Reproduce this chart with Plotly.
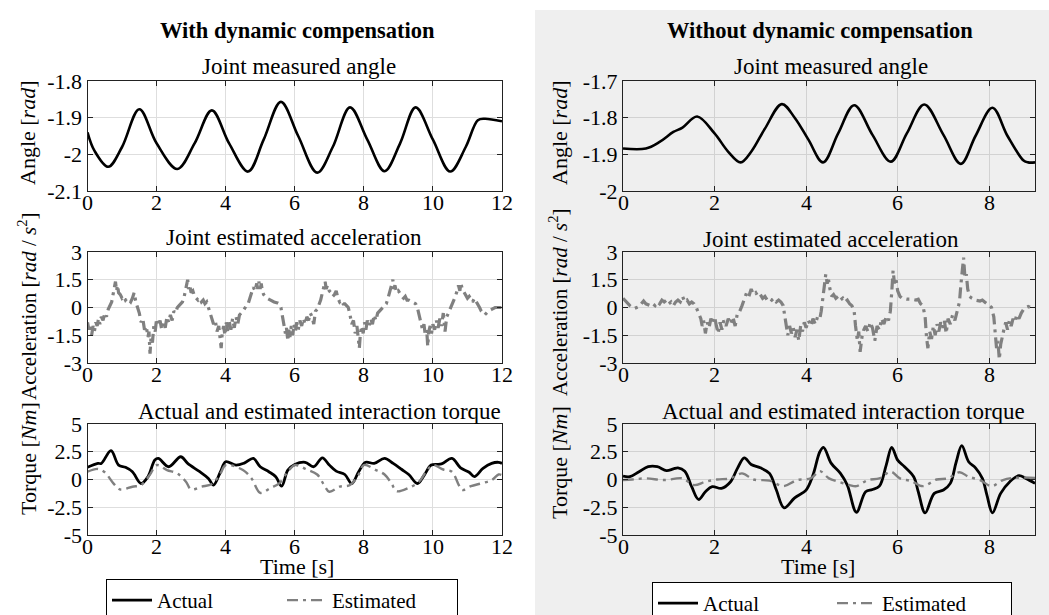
import plotly.graph_objects as go

W, H = 1049, 615
FONT = "Liberation Serif"

# ---------------- data ----------------
# Left: with dynamic compensation (0..12 s)
ang_L_t = [0, 0.2, 0.6, 1.0, 1.5, 2.0, 2.6, 3.1, 3.6, 4.1, 4.65, 5.1, 5.6, 6.1, 6.65, 7.1, 7.6, 8.1,
           8.6, 9.05, 9.5, 10.0, 10.5, 10.95, 11.3, 11.5, 12.0]
ang_L_v = [-1.94, -1.99, -2.034, -1.98, -1.877, -1.97, -2.04, -1.97, -1.88, -1.97, -2.047, -1.96, -1.857,
           -1.95, -2.05, -1.98, -1.872, -1.96, -2.046, -1.97, -1.872, -1.96, -2.047, -1.98, -1.907, -1.903, -1.91]

acc_L_t = [0.00, 0.04, 0.08, 0.12, 0.16, 0.2, 0.24, 0.28, 0.32, 0.36, 0.4, 0.45, 0.5, 0.55, 0.6, 0.65, 0.7, 0.74,
           0.78, 0.81, 0.84, 0.87, 0.9, 0.95, 1.0, 1.05, 1.1, 1.15, 1.2, 1.25, 1.3, 1.35, 1.4, 1.45, 1.5, 1.55,
           1.6, 1.65, 1.7, 1.75, 1.78, 1.81, 1.84, 1.88, 1.92, 1.96, 2.0, 2.05, 2.1, 2.15, 2.2, 2.25, 2.3, 2.35,
           2.4, 2.45, 2.5, 2.55, 2.6, 2.65, 2.7, 2.75, 2.8, 2.85, 2.9, 2.93, 2.96, 3.0, 3.05, 3.1, 3.15, 3.2,
           3.25, 3.3, 3.35, 3.4, 3.45, 3.5, 3.55, 3.6, 3.65, 3.7, 3.75, 3.8, 3.84, 3.87, 3.9, 3.94, 3.98, 4.02,
           4.06, 4.1, 4.15, 4.2, 4.25, 4.3, 4.35, 4.4, 4.5, 4.55, 4.6, 4.65, 4.7, 4.75, 4.8, 4.85, 4.9, 4.93,
           4.96, 5.0, 5.03, 5.06, 5.1, 5.15, 5.2, 5.3, 5.4, 5.5, 5.55, 5.6, 5.65, 5.7, 5.73, 5.76, 5.8, 5.83,
           5.86, 5.9, 5.94, 5.98, 6.02, 6.06, 6.1, 6.15, 6.2, 6.25, 6.3, 6.35, 6.4, 6.45, 6.5, 6.55, 6.6, 6.65,
           6.7, 6.75, 6.8, 6.85, 6.88, 6.91, 6.95, 7.0, 7.05, 7.1, 7.15, 7.2, 7.25, 7.3, 7.35, 7.4, 7.45, 7.5,
           7.55, 7.6, 7.65, 7.7, 7.75, 7.8, 7.84, 7.87, 7.9, 7.94, 7.98, 8.02, 8.06, 8.1, 8.15, 8.2, 8.25, 8.3,
           8.35, 8.4, 8.5, 8.55, 8.6, 8.65, 8.7, 8.75, 8.8, 8.84, 8.87, 8.9, 8.95, 9.0, 9.05, 9.1, 9.15, 9.2,
           9.25, 9.3, 9.4, 9.5, 9.55, 9.6, 9.65, 9.7, 9.74, 9.78, 9.82, 9.85, 9.88, 9.92, 9.96, 10.0, 10.05,
           10.1, 10.15, 10.2, 10.25, 10.3, 10.35, 10.4, 10.45, 10.5, 10.55, 10.6, 10.65, 10.7, 10.74, 10.78,
           10.81, 10.85, 10.9, 10.95, 11.0, 11.05, 11.1, 11.15, 11.2, 11.25, 11.3, 11.35, 11.4, 11.45, 11.5,
           11.55, 11.6, 11.7, 11.8, 11.9, 12.0]
acc_L_v = [-0.8, -1.2, -0.9, -1.5, -1.0, -1.3, -0.8, -1.0, -0.6, -0.9, -0.5, -0.7, -0.3, -0.5, -0.1, 0.1, 0.3, 0.7,
           1.0, 1.4, 0.9, 1.2, 0.8, 0.7, 0.5, 0.6, 0.4, 0.5, 0.4, 0.3, 0.5, 0.8, 0.3, 0.0, -0.3, -0.8,
           -0.6, -1.2, -1.0, -1.6, -1.3, -2.5, -1.6, -1.9, -1.0, -1.3, -0.6, -1.0, -0.7, -1.2, -0.8, -1.1, -0.5, -0.8,
           -0.4, -0.7, -0.2, -0.3, 0.0, 0.1, 0.2, 0.3, 0.6, 1.0, 1.5, 1.0, 1.2, 0.8, 0.9, 0.6, 0.5, 0.4,
           0.5, 0.3, 0.4, 0.2, 0.3, 0.0, -0.3, -0.6, -0.9, -0.7, -1.3, -1.0, -1.6, -2.2, -1.4, -1.0, -1.5, -0.8,
           -1.3, -0.7, -1.2, -0.6, -1.1, -0.5, -0.9, -0.4, -0.2, 0.0, 0.1, 0.2, 0.5, 0.8, 1.1, 0.9, 1.3, 1.0,
           1.4, 1.0, 1.3, 0.9, 0.7, 0.6, 0.5, 0.4, 0.3, 0.25, 0.2, 0.0, -0.5, -1.0, -1.4, -1.1, -1.8, -1.2,
           -1.6, -1.0, -1.5, -0.9, -1.3, -0.8, -1.2, -0.7, -1.0, -0.6, -0.9, -0.5, -0.7, -0.3, -0.5, -0.9, -0.2, -0.1,
           0.1, 0.4, 0.8, 1.1, 1.4, 1.0, 1.2, 0.9, 0.8, 0.6, 0.7, 0.9, 0.5, 0.3, 0.4, 0.2, 0.2, 0.1,
           0.0, -0.4, -0.9, -0.7, -1.4, -1.0, -1.7, -2.2, -1.4, -1.0, -1.4, -0.8, -1.2, -0.7, -1.0, -0.6, -0.9, -0.4,
           -0.7, -0.3, -0.1, 0.0, 0.1, 0.2, 0.5, 0.8, 1.2, 1.5, 1.0, 1.2, 0.8, 0.9, 0.7, 0.6, 0.5, 0.6,
           0.4, 0.4, 0.3, 0.2, 0.0, -0.4, -0.8, -1.2, -0.9, -1.5, -1.2, -2.1, -1.3, -1.0, -1.4, -0.9, -1.2,
           -0.7, -1.1, -0.6, -1.0, -0.3, -1.3, -0.5, -0.3, -0.1, 0.1, 0.3, 0.6, 0.9, 1.2, 0.9,
           1.3, 1.0, 0.8, 0.7, 0.5, 0.6, 0.4, 0.3, 0.5, 0.3, 0.2, 0.0, -0.2, -0.3, -0.4,
           -0.3, -0.2, -0.1, 0.0, 0.0, 0.0]

tq_L_t = [0, 0.3, 0.4, 0.68, 0.9, 1.1, 1.3, 1.55, 1.75, 1.95, 2.05, 2.35, 2.7, 2.9, 3.25, 3.5, 3.65, 3.85,
          4.0, 4.3, 4.55, 4.8, 5.0, 5.25, 5.45, 5.62, 5.8, 6.0, 6.3, 6.55, 6.8, 7.0, 7.2, 7.45, 7.65,
          7.85, 8.05, 8.3, 8.6, 8.85, 9.1, 9.3, 9.55, 9.75, 9.95, 10.25, 10.55, 10.8, 11.05, 11.2,
          11.45, 11.7, 11.9, 12.0]
tq_L_act = [1.1, 1.45, 1.45, 2.6, 1.3, 1.1, 0.7, -0.36, 0.25, 1.75, 1.9, 1.15, 2.05, 1.45, 0.7, 0.1, -0.5, 0.7,
            1.6, 1.3, 1.5, 1.9, 1.15, 0.7, 0.25, -0.6, 0.85, 1.35, 1.55, 1.15, 1.95, 1.3, 0.75, 0.45, -0.36,
            0.7, 1.55, 1.45, 1.9, 1.45, 0.9, 0.45, -0.36, 0.4, 1.3, 1.4, 1.9, 1.05, 0.65, 0.25,
            1.0, 1.45, 1.55, 1.45]
tq_L_est_t = [0, 0.3, 0.5, 0.75, 0.95, 1.3, 1.55, 1.8, 2.0, 2.3, 2.6, 2.85, 3.0, 3.3, 3.6, 3.85, 4.0, 4.5,
              4.75, 5.0, 5.3, 5.55, 5.8, 6.0, 6.35, 6.65, 6.85, 7.0, 7.3, 7.6, 7.85, 8.0, 8.35, 8.6, 8.8,
              8.95, 9.3, 9.6, 9.8, 10.0, 10.3, 10.55, 10.75, 10.85, 11.1, 11.4, 11.7, 11.9, 12.0]
tq_L_est = [0.7, 0.95, 0.65, -0.35, -0.9, -0.65, -0.5, 0.4, 1.3, 0.85, 0.55, -0.2, -0.9, -0.65, -0.4, 0.55, 1.3,
            0.85, 0.1, -1.2, -0.75, -0.35, 0.7, 1.3, 0.9, 0.45, -0.5, -1.1, -0.65, -0.5, 0.45, 1.3, 0.85, 0.45,
            -0.35, -1.05, -0.75, -0.2, 0.7, 1.3, 0.9, 0.7, -0.5, -0.95, -0.6, -0.35, -0.05, 0.45, 0.4]

# Right: without dynamic compensation (0..9 s)
ang_R_t = [0, 0.5, 0.8, 1.1, 1.3, 1.62, 2.0, 2.3, 2.57, 2.8, 3.1, 3.47, 3.75, 4.05, 4.37, 4.7, 5.05, 5.45,
           5.85, 6.2, 6.58, 7.0, 7.38, 7.7, 8.07, 8.4, 8.75, 8.85, 9.0]
ang_R_v = [-1.884, -1.884, -1.866, -1.839, -1.827, -1.797, -1.843, -1.893, -1.922, -1.893, -1.83, -1.763,
           -1.8, -1.86, -1.922, -1.843, -1.766, -1.847, -1.92, -1.843, -1.764, -1.847, -1.926, -1.85,
           -1.773, -1.85, -1.917, -1.922, -1.922]

acc_R_t = [0.0, 0.05, 0.1, 0.15, 0.2, 0.25, 0.3, 0.35, 0.4, 0.45, 0.5, 0.55, 0.6, 0.65, 0.7, 0.75, 0.8, 0.85,
           0.9, 0.95, 1.0, 1.05, 1.1, 1.15, 1.2, 1.25, 1.3, 1.35, 1.4, 1.45, 1.5, 1.55, 1.6, 1.65, 1.7, 1.73,
           1.76, 1.8, 1.84, 1.88, 1.92, 1.96, 2.0, 2.04, 2.08, 2.12, 2.16, 2.2, 2.25, 2.3, 2.35, 2.4, 2.45,
           2.5, 2.55, 2.6, 2.65, 2.7, 2.75, 2.8, 2.85, 2.9, 2.95, 3.0, 3.05, 3.1, 3.15, 3.2, 3.25, 3.3, 3.35,
           3.4, 3.45, 3.5, 3.53, 3.56, 3.6, 3.64, 3.68, 3.72, 3.76, 3.8, 3.84, 3.88, 3.92, 3.96, 4.0, 4.05,
           4.1, 4.15, 4.2, 4.25, 4.3, 4.33, 4.36, 4.4, 4.43, 4.46, 4.49, 4.52, 4.56, 4.6, 4.65, 4.7, 4.75,
           4.8, 4.85, 4.9, 4.95, 5.0, 5.05, 5.08, 5.12, 5.15, 5.18, 5.22, 5.26, 5.3, 5.35, 5.4, 5.45, 5.5,
           5.55, 5.6, 5.65, 5.7, 5.75, 5.8, 5.84, 5.87, 5.9, 5.93, 5.96, 6.0, 6.05, 6.1, 6.2, 6.3, 6.4, 6.45,
           6.5, 6.55, 6.6, 6.63, 6.66, 6.7, 6.74, 6.78, 6.82, 6.86, 6.9, 6.94, 6.98, 7.02, 7.06, 7.1, 7.15,
           7.2, 7.25, 7.3, 7.35, 7.38, 7.41, 7.44, 7.47, 7.5, 7.53, 7.57, 7.62, 7.7, 7.8, 7.85, 7.9, 8.0,
           8.05, 8.1, 8.13, 8.16, 8.19, 8.22, 8.25, 8.28, 8.32, 8.36, 8.4, 8.44, 8.48, 8.52, 8.56, 8.6, 8.65,
           8.7, 8.75, 8.8, 8.85, 8.9, 9.0]
acc_R_v = [0.5, 0.35, 0.2, 0.1, 0.0, -0.05, 0.0, 0.05, 0.2, 0.35, 0.2, 0.15, 0.1, 0.2, 0.1, 0.3, 0.2, 0.4,
           0.3, 0.4, 0.2, 0.3, 0.1, 0.3, 0.4, 0.3, 0.6, 0.3, 0.4, 0.2, 0.3, 0.2, 0.0, -0.3, -0.6, -1.0,
           -0.7, -1.4, -0.8, -1.1, -0.6, -0.9, -0.5, -1.0, -1.4, -0.8, -1.2, -0.7, -1.0, -0.6, -0.9, -0.5, -1.0,
           -0.3, -0.2, 0.1, 0.4, 0.8, 0.6, 1.0, 0.7, 0.8, 0.6, 0.7, 0.5, 0.6, 0.4, 0.5, 0.4, 0.5, 0.3,
           0.4, 0.3, 0.1, -0.4, -1.0, -1.5, -1.0, -1.4, -1.1, -1.6, -1.2, -1.8, -1.0, -1.3, -0.8, -1.1, -0.7,
           -1.0, -0.6, -0.9, -0.5, -0.6, -0.2, 0.4, 1.2, 1.8, 1.3, 1.5, 1.0, 0.6, 0.7, 0.5, 0.6, 0.4,
           0.5, 0.3, 0.4, 0.2, 0.1, -0.2, -1.0, -1.8, -1.3, -2.4, -1.6, -1.2, -1.0, -1.3, -0.8, -1.1, -1.8,
           -1.0, -1.2, -0.6, -0.9, -0.5, -0.7, -0.2, 0.8, 2.0, 1.3, 1.6, 0.9, 0.6, 0.5, 0.45, 0.45, 0.4, 0.45,
           0.2, 0.1, -0.5, -1.6, -2.2, -1.3, -1.7, -1.0, -1.5, -0.9, -1.3, -0.8, -1.1, -0.7, -1.4, -0.6, -0.9,
           -0.4, -0.7, -0.2, 0.3, 1.2, 2.0, 2.7, 1.6, 1.8, 1.0, 0.6, 0.5, 0.4, 0.35, 0.4, 0.3, 0.1,
           0.0, -0.5, -1.6, -2.2, -1.8, -2.8, -2.0, -1.6, -1.2, -0.8, -1.2, -0.7, -1.0, -0.6, -0.8, -0.4, -0.6,
           -0.3, -0.1, 0.0, 0.05, 0.0, 0.0]

tq_R_t = [0, 0.15, 0.35, 0.55, 0.75, 0.95, 1.1, 1.2, 1.35, 1.5, 1.65, 1.8, 1.95, 2.15, 2.35, 2.5, 2.65, 2.8,
          3.0, 3.2, 3.35, 3.52, 3.75, 4.0, 4.15, 4.3, 4.38, 4.55, 4.75, 4.9, 5.1, 5.3, 5.45, 5.6, 5.75,
          5.87, 6.0, 6.15, 6.35, 6.45, 6.6, 6.8, 7.0, 7.15, 7.28, 7.4, 7.55, 7.7, 7.85, 7.95, 8.07,
          8.25, 8.45, 8.65, 8.8, 9.0]
tq_R_act = [0.3, 0.25, 0.7, 1.15, 1.15, 0.8, 0.95, 1.05, 0.75, -0.65, -1.8, -1.1, -0.65, -0.8, -0.2, 1.0, 1.95,
            1.35, 1.05, 0.55, -0.95, -2.55, -1.65, -0.95, 0.4, 2.5, 2.9, 1.45, 0.55, -0.5, -2.95, -1.1,
            -0.9, -0.6, 1.3, 2.9, 1.75, 1.15, 0.25, -1.1, -3.0, -1.25, -0.95, -0.35, 1.6, 3.05, 1.6, 1.05,
            0.1, -1.4, -3.0, -1.25, -0.2, 0.35, 0.1, -0.35]
tq_R_est_t = [0, 0.2, 0.5, 0.9, 1.3, 1.55, 1.8, 2.05, 2.35, 2.6, 2.85, 3.2, 3.5, 3.8, 4.1, 4.3, 4.5, 4.7,
              4.95, 5.1, 5.35, 5.6, 5.85, 6.05, 6.3, 6.55, 6.85, 7.1, 7.35, 7.55, 7.8, 8.05, 8.3, 8.55, 9.0]
tq_R_est = [-0.05, 0.0, 0.1, -0.05, 0.1, -0.5, -0.2, 0.0, 0.1, 0.55, 0.0, -0.1, -0.6, -0.05, 0.1, 0.75, 0.1,
            -0.2, -0.5, -0.6, -0.05, 0.1, 0.7, 0.1, -0.15, -0.6, 0.0, 0.1, 0.65, 0.25, -0.05, -0.6, -0.05,
            0.15, 0.15]

x_ticks_L = [0, 2, 4, 6, 8, 10, 12]
x_ticks_R = [0, 2, 4, 6, 8]
ang_ticks_L = [-2.1, -2.0, -1.9, -1.8]
ang_labels_L = ["-2.1", "-2", "-1.9", "-1.8"]
ang_ticks_R = [-2.0, -1.9, -1.8, -1.7]
ang_labels_R = ["-2", "-1.9", "-1.8", "-1.7"]
acc_ticks = [-3, -1.5, 0, 1.5, 3]
acc_labels = ["-3", "-1.5", "0", "1.5", "3"]
tq_ticks = [-5, -2.5, 0, 2.5, 5]
tq_labels = ["-5", "-2.5", "0", "2.5", "5"]

# ---------------- layout helpers ----------------
def fx(p):
    return p / W

def fy(p):
    return 1 - p / H

XL = [fx(87.5), fx(502)]
XR = [fx(623), fx(1035)]
ROW_PX = [(81, 191), (252, 363), (424, 535)]
ROWS = [[fy(b), fy(t)] for t, b in ROW_PX]

BLACK = "#000000"
GRAY = "#808080"
DASHDOT = "11px,5px,3px,5px"

fig = go.Figure()

def add(t, v, ax, color, width, dash=None, shape="spline", name=None, legend=None, showlegend=False):
    fig.add_trace(go.Scatter(
        x=t, y=v, xaxis="x" + ax, yaxis="y" + ax, mode="lines",
        line=dict(color=color, width=width, dash=dash, shape=shape, smoothing=1.0 if shape == "spline" else None),
        name=name, legend=legend, showlegend=showlegend, hoverinfo="skip"))

add(ang_L_t, ang_L_v, "1", BLACK, 2.6)
add(ang_R_t, ang_R_v, "2", BLACK, 2.6)
add(acc_L_t, acc_L_v, "3", GRAY, 3.2, dash=DASHDOT, shape="linear")
add(acc_R_t, acc_R_v, "4", GRAY, 3.2, dash=DASHDOT, shape="linear")
add(tq_L_t, tq_L_act, "5", BLACK, 2.8, name="Actual", legend="legend", showlegend=True)
add(tq_L_est_t, tq_L_est, "5", GRAY, 2.4, dash=DASHDOT, name="Estimated", legend="legend", showlegend=True)
add(tq_R_t, tq_R_act, "6", BLACK, 2.8, name="Actual", legend="legend2", showlegend=True)
add(tq_R_est_t, tq_R_est, "6", GRAY, 2.4, dash=DASHDOT, name="Estimated", legend="legend2", showlegend=True)

tickfont = dict(family=FONT, size=22, color=BLACK)

def xax(dom, anchor, rng, ticks, grid):
    # tick labels are placed as axis-referenced annotations (closer to the axis, as in the reference)
    return dict(domain=dom, anchor=anchor, range=rng, tickvals=ticks, showticklabels=False,
                showline=True, linecolor="#222222", linewidth=1, mirror="ticks", ticks="inside",
                ticklen=5, tickcolor="#222222", showgrid=True, gridcolor=grid, gridwidth=1,
                zeroline=False, tickfont=tickfont, fixedrange=True, automargin=False)

def yax(dom, anchor, rng, ticks, labels, grid):
    return dict(domain=dom, anchor=anchor, range=rng, tickvals=ticks, ticktext=labels,
                showline=True, linecolor="#222222", linewidth=1, mirror="ticks", ticks="inside",
                ticklen=5, tickcolor="#222222", showgrid=True, gridcolor=grid, gridwidth=1,
                zeroline=False, tickfont=tickfont, fixedrange=True, automargin=False)

GL = "#dedede"
GR = "#d2d2d2"
lay = {}
lay["xaxis"] = xax(XL, "y", [0, 12], x_ticks_L, GL)
lay["yaxis"] = yax(ROWS[0], "x", [-2.1, -1.8], ang_ticks_L, ang_labels_L, GL)
lay["xaxis2"] = xax(XR, "y2", [0, 9], x_ticks_R, GR)
lay["yaxis2"] = yax(ROWS[0], "x2", [-2.0, -1.7], ang_ticks_R, ang_labels_R, GR)
lay["xaxis3"] = xax(XL, "y3", [0, 12], x_ticks_L, GL)
lay["yaxis3"] = yax(ROWS[1], "x3", [-3, 3], acc_ticks, acc_labels, GL)
lay["xaxis4"] = xax(XR, "y4", [0, 9], x_ticks_R, GR)
lay["yaxis4"] = yax(ROWS[1], "x4", [-3, 3], acc_ticks, acc_labels, GR)
lay["xaxis5"] = xax(XL, "y5", [0, 12], x_ticks_L, GL)
lay["yaxis5"] = yax(ROWS[2], "x5", [-5, 5], tq_ticks, tq_labels, GL)
lay["xaxis6"] = xax(XR, "y6", [0, 9], x_ticks_R, GR)
lay["yaxis6"] = yax(ROWS[2], "x6", [-5, 5], tq_ticks, tq_labels, GR)

def ann(text, x, y, size=20, bold=False, angle=0):
    return dict(text=("<b>%s</b>" % text) if bold else text, x=fx(x), y=fy(y), xref="paper", yref="paper",
                xanchor="center", yanchor="middle", showarrow=False, textangle=angle,
                font=dict(family=FONT, size=size, color=BLACK))

annotations = [
    ann("With dynamic compensation", 297, 30, size=22.5, bold=True),
    ann("Without dynamic compensation", 820, 30, size=22.5, bold=True),
    ann("Joint measured angle", 299, 67, size=23),
    ann("Joint measured angle", 831, 67, size=23),
    ann("Joint estimated acceleration", 294, 237, size=23),
    ann("Joint estimated acceleration", 831, 239, size=23),
    ann("Actual and estimated interaction torque", 319, 411, size=23),
    ann("Actual and estimated interaction torque", 843, 411, size=23),
    ann("Time [s]", 297, 566, size=22),
    ann("Time [s]", 818, 566, size=22),
    ann("Angle [<i>rad</i>]", 27, 133, size=22, angle=-90),
    ann("Angle [<i>rad</i>]", 559, 133, size=22, angle=-90),
    ann("Acceleration [<i>rad</i> / <i>s</i><sup>2</sup>]", 27, 306, size=21, angle=-90),
    ann("Acceleration [<i>rad</i> / <i>s</i><sup>2</sup>]", 559, 302, size=21, angle=-90),
    ann("Torque [<i>Nm</i>]", 28, 459, size=22, angle=-90),
    ann("Torque [<i>Nm</i>]", 559, 463, size=22, angle=-90),
]

# x tick labels, positioned by each x axis' own scale
for i, (_, bottom) in enumerate(ROW_PX):
    for side, ticks in (("L", x_ticks_L), ("R", x_ticks_R)):
        axn = 2 * i + (1 if side == "L" else 2)
        xref = "x" if axn == 1 else "x%d" % axn
        for t in ticks:
            annotations.append(dict(text=str(t), x=t, y=fy(bottom - 3), xref=xref, yref="paper",
                                    xanchor="center", yanchor="top", showarrow=False,
                                    font=dict(family=FONT, size=22, color=BLACK)))

shapes = [dict(type="rect", xref="paper", yref="paper", x0=fx(535), x1=1.01, y0=-0.01, y1=fy(10),
               fillcolor="#efefef", line=dict(width=0), layer="below")]

legfont = dict(family=FONT, size=21, color=BLACK)
fig.update_layout(
    width=W, height=H, margin=dict(l=0, r=0, t=0, b=0, pad=0, autoexpand=False),
    paper_bgcolor="white", plot_bgcolor="rgba(0,0,0,0)",
    annotations=annotations, shapes=shapes,
    legend=dict(x=fx(106), y=fy(579), xanchor="left", yanchor="top", orientation="h",
                bgcolor="white", bordercolor=BLACK, borderwidth=1, font=legfont,
                entrywidth=120, itemwidth=40, tracegroupgap=0),
    legend2=dict(x=fx(652), y=fy(582), xanchor="left", yanchor="top", orientation="h",
                 bgcolor="white", bordercolor=BLACK, borderwidth=1, font=legfont,
                 entrywidth=124, itemwidth=40, tracegroupgap=0),
    **lay,
)

fig.write_html("out.html")
